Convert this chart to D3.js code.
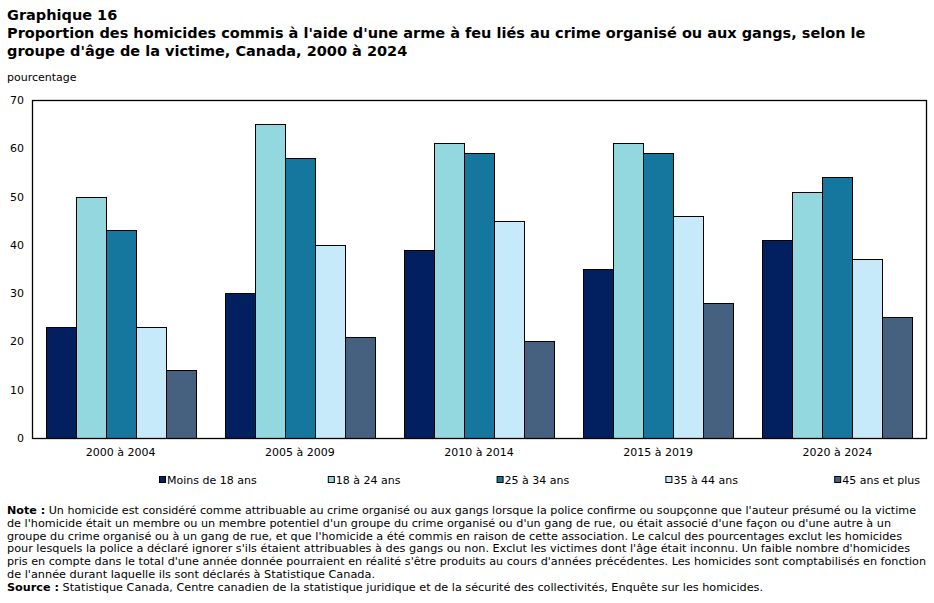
<!DOCTYPE html>
<html><head><meta charset="utf-8">
<script src="https://cdn.jsdelivr.net/npm/d3@7"></script>
<style>
body{margin:0;background:#fff;}
text{font-family:"DejaVu Sans",Verdana,sans-serif;fill:#000;}
</style></head>
<body><svg id="c" width="934" height="603"></svg>
<script>
const categories = ["2000 à 2004","2005 à 2009","2010 à 2014","2015 à 2019","2020 à 2024"];
const seriesNames = ["Moins de 18 ans","18 à 24 ans","25 à 34 ans","35 à 44 ans","45 ans et plus"];
const moins18 = [23,30,39,35,41];
const a18_24 = [50,65,61,61,51];
const a25_34 = [43,58,59,59,54];
const a35_44 = [23,40,45,46,37];
const a45plus = [14,21,20,28,25];
const yTicks = [0,10,20,30,40,50,60,70];
const colors = ["#022060","#93D7DF","#15769E","#C7EAFB","#46607F"];
const series = [moins18,a18_24,a25_34,a35_44,a45plus];

const svg = d3.select("#c");
const L=32,R=926,T=100,B=438;
const x0 = d3.scaleBand().domain(categories).range([L,R]).paddingInner(0.163).paddingOuter(0.076);
const x1 = d3.scaleBand().domain(seriesNames).range([0,x0.bandwidth()]);
const y = d3.scaleLinear().domain([0,70]).range([B,T]);

// title
const t = svg.append("g").attr("font-weight","bold").attr("font-size","14.5px");
t.append("text").attr("x",7).attr("y",20).text("Graphique 16");
t.append("text").attr("x",7).attr("y",38).text("Proportion des homicides commis à l'aide d'une arme à feu liés au crime organisé ou aux gangs, selon le");
t.append("text").attr("x",7).attr("y",56).text("groupe d'âge de la victime, Canada, 2000 à 2024");
svg.append("text").attr("x",7).attr("y",81).attr("font-size","11px").text("pourcentage");

// bars
categories.forEach((c,i)=>{
  const g = svg.append("g");
  seriesNames.forEach((s,j)=>{
    g.append("rect").attr("x",Math.round(x0(c)+x1(s))+0.5).attr("y",Math.round(y(series[j][i]))+0.5)
     .attr("width",Math.round(x1.bandwidth())).attr("height",Math.round(B-y(series[j][i])))
     .attr("fill",colors[j]).attr("stroke","#000").attr("stroke-width",1);
  });
});

// frame
svg.append("rect").attr("x",L+0.5).attr("y",T+0.5).attr("width",R-L).attr("height",B-T)
  .attr("fill","none").attr("stroke","#000").attr("stroke-width",1.3);

// y axis
const ya = svg.append("g").attr("transform",`translate(${L},0)`)
  .call(d3.axisLeft(y).tickValues(yTicks).tickSize(0).tickPadding(8));
ya.select(".domain").remove();
ya.selectAll("text").attr("font-size","11px").attr("font-family","DejaVu Sans").attr("fill","#000");

// x axis
const xa = svg.append("g").attr("transform",`translate(0,${B})`)
  .call(d3.axisBottom(x0).tickSize(0).tickPadding(10));
xa.select(".domain").remove();
xa.selectAll("text").attr("font-size","11px").attr("font-family","DejaVu Sans").attr("fill","#000");

// legend
const lg = svg.append("g");
seriesNames.forEach((s,j)=>{
  const lx = 159 + j*168.8;
  lg.append("rect").attr("x",lx+0.5).attr("y",476.5).attr("width",6).attr("height",6)
    .attr("fill",colors[j]).attr("stroke","#000").attr("stroke-width",1);
  lg.append("text").attr("x",lx+8).attr("y",484).attr("font-size","11px").text(s);
});

// notes
const noteLines = [
  [["Note :",true],[" Un homicide est considéré comme attribuable au crime organisé ou aux gangs lorsque la police confirme ou soupçonne que l'auteur présumé ou la victime",false]],
  [["de l'homicide était un membre ou un membre potentiel d'un groupe du crime organisé ou d'un gang de rue, ou était associé d'une façon ou d'une autre à un",false]],
  [["groupe du crime organisé ou à un gang de rue, et que l'homicide a été commis en raison de cette association. Le calcul des pourcentages exclut les homicides",false]],
  [["pour lesquels la police a déclaré ignorer s'ils étaient attribuables à des gangs ou non. Exclut les victimes dont l'âge était inconnu. Un faible nombre d'homicides",false]],
  [["pris en compte dans le total d'une année donnée pourraient en réalité s'être produits au cours d'années précédentes. Les homicides sont comptabilisés en fonction",false]],
  [["de l'année durant laquelle ils sont déclarés à Statistique Canada.",false]],
  [["Source :",true],[" Statistique Canada, Centre canadien de la statistique juridique et de la sécurité des collectivités, Enquête sur les homicides.",false]]
];
const noteEnds = [916,891,902,910,926,375,763];
noteLines.forEach((ln,i)=>{
  const tx = svg.append("text").attr("x",7).attr("y",514+i*12.8).attr("font-size","10.8px")
    .attr("textLength",noteEnds[i]-7).attr("lengthAdjust","spacingAndGlyphs");
  ln.forEach(([s,b])=>tx.append("tspan").attr("font-weight",b?"bold":"normal").text(s));
});
</script></body></html>
